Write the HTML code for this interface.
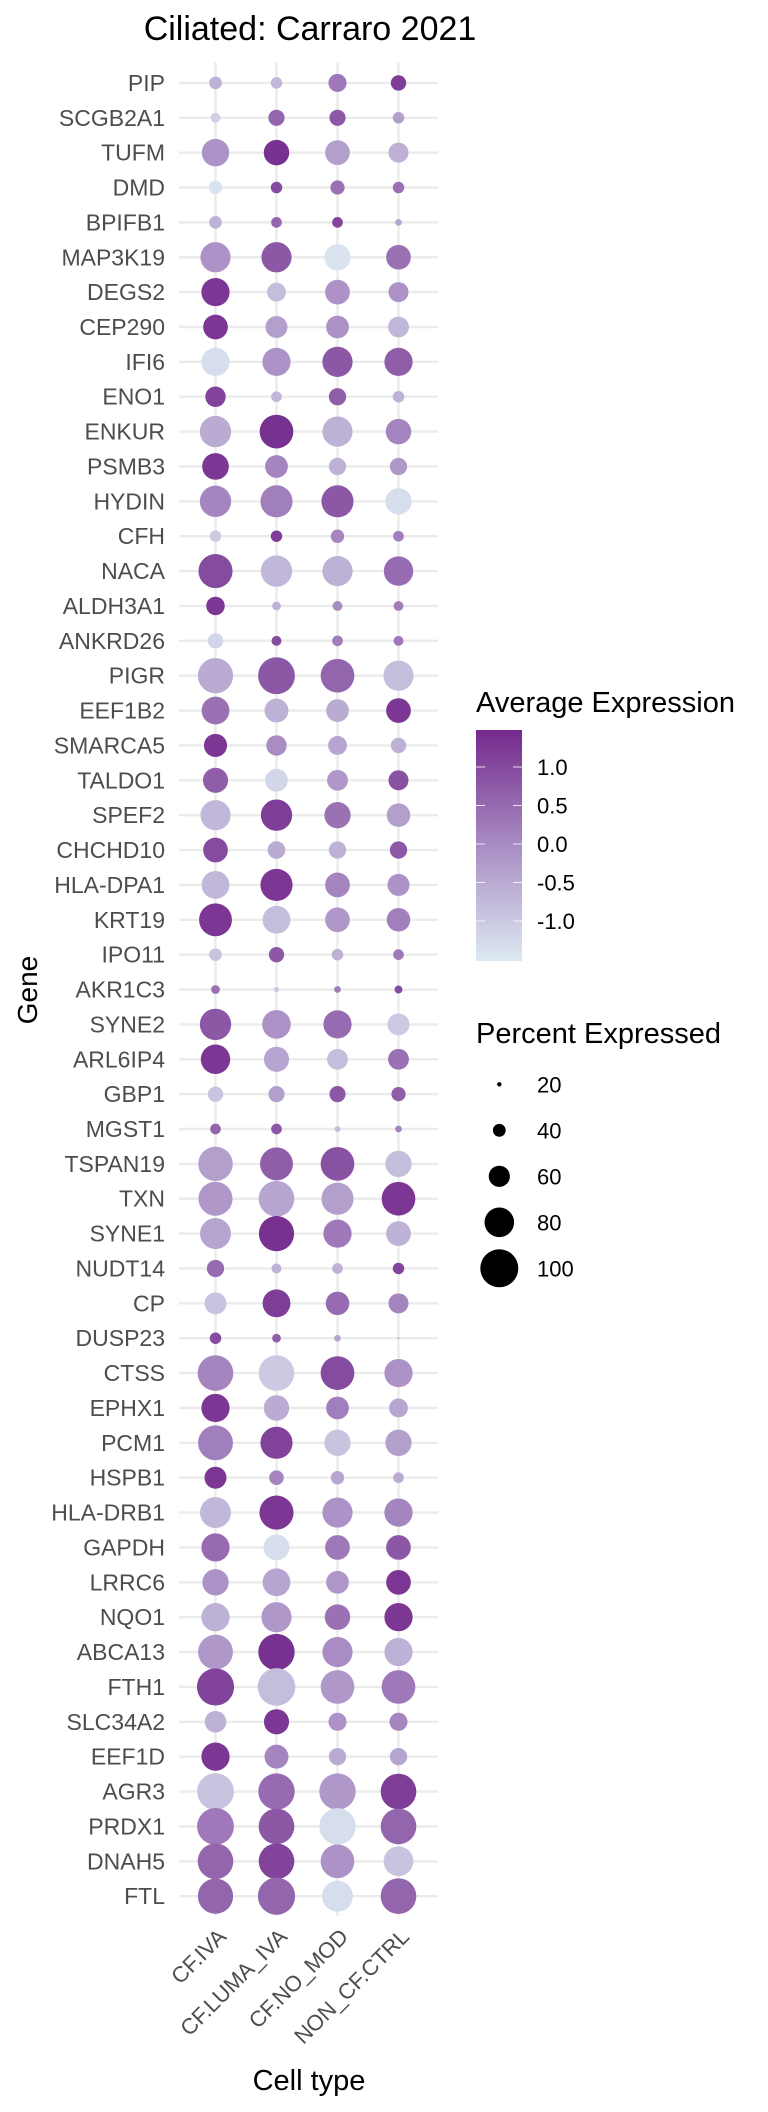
<!DOCTYPE html>
<html><head><meta charset="utf-8"><style>
html,body{margin:0;padding:0;background:#fff;width:768px;height:2112px;overflow:hidden}
svg{display:block;font-family:"Liberation Sans",Arial,sans-serif}
</style></head><body>
<svg id="chart" width="768" height="2112" viewBox="0 0 768 2112" xmlns="http://www.w3.org/2000/svg">
<defs><linearGradient id="cbar" x1="0" y1="1" x2="0" y2="0">
<stop offset="0" stop-color="#dde9f2"/><stop offset="0.5" stop-color="#a88cc3"/><stop offset="1" stop-color="#742a8c"/></linearGradient></defs>
<text x="310" y="40" font-size="34" text-anchor="middle" fill="#000">Ciliated: Carraro 2021</text>
<g id="grid"></g><g id="dots"></g><g id="ylabels"></g><g id="xlabels"></g>
<text transform="translate(37,990) rotate(-90)" font-size="28" text-anchor="middle" fill="#000">Gene</text>
<text x="309" y="2090" font-size="29" text-anchor="middle" fill="#000">Cell type</text>
<g>
<text x="476" y="712" font-size="29" fill="#000">Average Expression</text>
<rect x="476" y="730" width="46" height="231" fill="url(#cbar)"/>
<g id="cticks"></g></g>
<g>
<text x="476" y="1043" font-size="29" fill="#000">Percent Expressed</text>
<g id="sizeleg"></g></g>
</svg>
<script>
const genes=["PIP","SCGB2A1","TUFM","DMD","BPIFB1","MAP3K19","DEGS2","CEP290","IFI6","ENO1","ENKUR","PSMB3","HYDIN","CFH","NACA","ALDH3A1","ANKRD26","PIGR","EEF1B2","SMARCA5","TALDO1","SPEF2","CHCHD10","HLA-DPA1","KRT19","IPO11","AKR1C3","SYNE2","ARL6IP4","GBP1","MGST1","TSPAN19","TXN","SYNE1","NUDT14","CP","DUSP23","CTSS","EPHX1","PCM1","HSPB1","HLA-DRB1","GAPDH","LRRC6","NQO1","ABCA13","FTH1","SLC34A2","EEF1D","AGR3","PRDX1","DNAH5","FTL"];
const cellTypes=["CF.IVA","CF.LUMA_IVA","CF.NO_MOD","NON_CF.CTRL"];
const expCFIVA=[-0.6,-1.1,-0.1,-1.4,-0.6,-0.1,1.3,1.3,-1.3,1.1,-0.5,1.3,0.1,-1.0,1.0,1.3,-1.2,-0.5,0.4,1.3,0.7,-0.7,1.0,-0.7,1.3,-0.9,0.4,0.8,1.3,-0.9,0.6,-0.3,-0.2,-0.4,0.5,-0.9,1.0,0.1,1.3,0.2,1.3,-0.7,0.5,-0.1,-0.6,-0.2,1.1,-0.6,1.3,-0.9,0.3,0.6,0.6];
const expLUMA=[-0.7,0.6,1.4,1.0,0.6,0.8,-0.8,-0.3,-0.1,-0.7,1.4,0.1,0.2,1.2,-0.7,-0.6,1.0,0.8,-0.6,0.0,-1.2,1.2,-0.5,1.3,-0.8,0.8,-1.0,-0.1,-0.4,-0.3,0.8,0.7,-0.4,1.4,-0.6,1.2,0.7,-1.0,-0.5,1.1,0.1,1.3,-1.3,-0.4,-0.2,1.4,-0.8,1.3,0.1,0.5,0.8,1.1,0.6];
const expNOMOD=[0.3,0.8,-0.3,0.4,1.1,-1.4,-0.1,-0.1,0.8,0.7,-0.6,-0.6,0.8,0.1,-0.6,0.0,0.2,0.6,-0.5,-0.4,-0.2,0.4,-0.6,0.1,-0.2,-0.6,0.2,0.5,-0.8,0.8,-0.8,0.9,-0.3,0.3,-0.6,0.5,-0.4,1.0,0.2,-0.9,-0.4,-0.1,0.3,-0.2,0.4,0.0,-0.2,-0.1,-0.5,-0.2,-1.3,-0.1,-1.3];
const expCTRL=[1.2,-0.3,-0.6,0.4,-0.4,0.4,-0.1,-0.7,0.7,-0.6,0.1,-0.2,-1.3,0.2,0.5,0.2,0.3,-0.8,1.3,-0.6,0.9,-0.3,0.8,-0.1,0.2,0.3,1.0,-1.0,0.4,0.7,0.1,-0.8,1.3,-0.6,1.1,0.1,0.0,-0.1,-0.4,-0.3,-0.5,0.1,0.8,1.3,1.3,-0.6,0.3,0.1,-0.4,1.2,0.6,-0.9,0.6];
const pctCFIVA=[36,29,74,38,36,81,76,67,76,56,84,72,84,33,91,51,43,94,75,63,68,81,67,75,88,36,26,84,79,43,31,92,91,83,48,60,33,95,76,93,60,83,76,71,76,93,99,59,76,98,98,95,94];
const pctLUMA=[33,45,69,33,31,81,52,60,76,31,90,62,86,33,84,26,29,98,65,56,62,84,49,86,75,43,17,77,68,45,31,88,95,94,29,75,26,95,69,86,41,91,70,75,81,97,100,68,65,97,95,95,99];
const pctNOMOD=[50,45,67,40,31,71,67,62,81,48,81,48,86,38,81,29,31,90,62,52,57,71,48,67,67,33,21,76,57,45,19,90,86,76,31,64,21,90,62,71,38,81,67,62,69,81,90,50,48,97,97,90,83];
const pctCTRL=[43,33,55,33,21,67,55,57,76,33,69,48,71,31,79,29,29,81,67,43,55,64,48,60,64,31,24,60,57,40,21,71,90,67,33,55,8,76,52,71,31,76,67,67,76,76,90,50,48,95,95,80,95];
const colorTicks=[1.0,0.5,0.0,-0.5,-1.0];
const sizeBreaks=[20,40,60,80,100];

const NS="http://www.w3.org/2000/svg";
const colX=[215.5,277,338,399];
const xPos=i=>colX[0]+i*61;
const yPos=i=>82.9+i*34.87;
const rad=p=>Math.max(0,0.21*p-2.0);
const plotRad=p=>Math.max(0.8,0.195*p-0.7);
const yCb=v=>844-v*77;
function col(v){
  const stops=[[-1.5,[221,233,242]],[0,[168,140,195]],[1.5,[116,42,140]]];
  v=Math.max(-1.5,Math.min(1.5,v));
  let a=stops[0],b=stops[1]; if(v>0){a=stops[1];b=stops[2];}
  const t=(v-a[0])/(b[0]-a[0]);
  const c=a[1].map((x,k)=>Math.round(x+(b[1][k]-x)*t));
  return `rgb(${c[0]},${c[1]},${c[2]})`;
}
function mk(tag,attrs,parent){const e=document.createElementNS(NS,tag);for(const k in attrs)e.setAttribute(k,attrs[k]);parent.appendChild(e);return e;}
const grid=document.getElementById('grid');
genes.forEach((g,i)=>{
  const l=mk('line',{x1:179,x2:438,y1:yPos(i),y2:yPos(i),stroke:'#ebebeb','stroke-width':2.4},grid);
  
  
});
cellTypes.forEach((c,j)=>{
  const l=mk('line',{x1:xPos(j),x2:xPos(j),y1:62,y2:1916,stroke:'#ebebeb','stroke-width':2.4},grid);
  
  
});
const exps=[expCFIVA,expLUMA,expNOMOD,expCTRL];
const pcts=[pctCFIVA,pctLUMA,pctNOMOD,pctCTRL];
const dots=document.getElementById('dots');
genes.forEach((g,i)=>{
  cellTypes.forEach((c,j)=>{
    const d=mk('circle',{cx:xPos(j),cy:yPos(i),r:plotRad(pcts[j][i]),fill:col(exps[j][i])},dots);
    
    
  });
});
const yl=document.getElementById('ylabels');
genes.forEach((g,i)=>{
  const t=mk('text',{x:165,y:yPos(i)+8,'font-size':23,'text-anchor':'end',fill:'#4d4d4d'},yl);
  t.textContent=g;
  
  
});
const xl=document.getElementById('xlabels');
cellTypes.forEach((c,j)=>{
  const x=xPos(j)+12,y=1938;
  const t=mk('text',{x:x,y:y,'font-size':22,'text-anchor':'end',fill:'#4d4d4d',transform:`rotate(-45 ${x} ${y})`},xl);
  t.textContent=c;
  
  
});
const ct=document.getElementById('cticks');
colorTicks.forEach(v=>{
  const y=yCb(v);
  const a=mk('line',{x1:476,x2:485,y1:y,y2:y,stroke:'#fff','stroke-width':1,opacity:0.8},ct);
  
  
  const b=mk('line',{x1:513,x2:522,y1:y,y2:y,stroke:'#fff','stroke-width':1,opacity:0.8},ct);
  
  
  const t=mk('text',{x:537,y:y+8,'font-size':22,fill:'#000'},ct);
  t.textContent=v.toFixed(1);
  
  
});
const sl=document.getElementById('sizeleg');
sizeBreaks.forEach((p,k)=>{
  const y=1084.3+k*46;
  const c=mk('circle',{cx:499.3,cy:y,r:rad(p),fill:'#000'},sl);
  
  
  const t=mk('text',{x:537,y:y+8,'font-size':22,fill:'#000'},sl);
  t.textContent=p;
  
  
});
</script>
</body></html>
